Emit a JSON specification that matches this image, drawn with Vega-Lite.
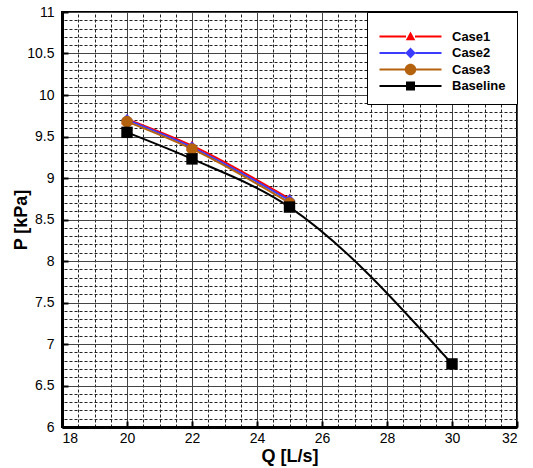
{
  "$schema": "https://vega.github.io/schema/vega-lite/v6.json",
  "width": 455,
  "height": 415,
  "autosize": "none",
  "padding": {"left": 62, "top": 12, "right": 16, "bottom": 41},
  "background": "white",
  "config": {
    "font": "Liberation Sans",
    "view": {"stroke": "black", "strokeWidth": 2},
    "legend": {
      "symbolOpacity": 1, "orient": "top-right", "offset": 0,
      "fillColor": "white", "strokeColor": "black", "padding": 11,
      "titleFontSize": 7, "titlePadding": 0,
      "labelFont": "Liberation Sans", "labelFontWeight": "bold", "labelFontSize": 13, "labelColor": "black",
      "symbolSize": 100, "symbolStrokeWidth": 0, "symbolOffset": 26, "labelOffset": 35, "rowPadding": 2.5
    }
  },
  "data": {
    "values": [
      {"series": "Case1", "Q": 20, "P": 9.71},
      {"series": "Case1", "Q": 22, "P": 9.39},
      {"series": "Case1", "Q": 25, "P": 8.75},
      {"series": "Case2", "Q": 20, "P": 9.70},
      {"series": "Case2", "Q": 22, "P": 9.37},
      {"series": "Case2", "Q": 25, "P": 8.73},
      {"series": "Case3", "Q": 20, "P": 9.68},
      {"series": "Case3", "Q": 22, "P": 9.35},
      {"series": "Case3", "Q": 25, "P": 8.70},
      {"series": "Baseline", "Q": 20, "P": 9.55},
      {"series": "Baseline", "Q": 22, "P": 9.23},
      {"series": "Baseline", "Q": 25, "P": 8.65},
      {"series": "Baseline", "Q": 30, "P": 6.76}
    ]
  },
  "layer": [
    {
      "mark": {"type": "line", "strokeWidth": 2, "interpolate": "monotone"},
      "encoding": {
        "x": {
          "field": "Q", "type": "quantitative",
          "scale": {"domain": [18, 32], "nice": false, "zero": false},
          "axis": {
            "values": [18, 20, 22, 24, 26, 28, 30, 32],
            "format": "~g",
            "title": "Q [L/s]",
            "titleFontSize": 18, "titleFontWeight": "bold", "titleColor": "black", "titlePadding": 2,
            "labelFontSize": 14, "labelColor": "black", "labelPadding": 10,
            "ticks": true, "tickSize": -6, "tickWidth": 2, "tickColor": "black",
            "domain": true, "domainColor": "black", "domainWidth": 3,
            "grid": true, "gridColor": "#444", "gridWidth": 1
          }
        },
        "y": {
          "field": "P", "type": "quantitative",
          "scale": {"domain": [6, 11], "nice": false, "zero": false},
          "axis": {
            "values": [6, 6.5, 7, 7.5, 8, 8.5, 9, 9.5, 10, 10.5, 11],
            "format": "~g",
            "title": "P [kPa]",
            "titleFontSize": 18, "titleFontWeight": "bold", "titleColor": "black", "titlePadding": -4,
            "labelFontSize": 14, "labelColor": "black", "labelPadding": 14,
            "ticks": true, "tickSize": -6, "tickWidth": 2, "tickColor": "black",
            "domain": true, "domainColor": "black", "domainWidth": 3,
            "grid": true, "gridColor": "#444", "gridWidth": 1
          }
        },
        "color": {
          "field": "series", "type": "nominal",
          "scale": {"domain": ["Case1", "Case2", "Case3", "Baseline"], "range": ["#ff0000", "#3c3cff", "#b5620f", "#000000"]},
          "legend": null
        }
      }
    },
    {
      "mark": {"type": "point", "filled": true, "opacity": 1},
      "encoding": {
        "x": {
          "field": "Q", "type": "quantitative",
          "axis": {
            "orient": "top",
            "values": [18.5, 19, 19.5, 20.5, 21, 21.5, 22.5, 23, 23.5, 24.5, 25, 25.5, 26.5, 27, 27.5, 28.5, 29, 29.5, 30.5, 31, 31.5],
            "labels": false, "ticks": false, "domain": false, "title": null,
            "grid": true, "gridColor": "#222", "gridWidth": 1, "gridDash": [3, 2]
          }
        },
        "y": {
          "field": "P", "type": "quantitative",
          "axis": {
            "orient": "right",
            "values": [6.1, 6.2, 6.3, 6.4, 6.6, 6.7, 6.8, 6.9, 7.1, 7.2, 7.3, 7.4, 7.6, 7.7, 7.8, 7.9, 8.1, 8.2, 8.3, 8.4, 8.6, 8.7, 8.8, 8.9, 9.1, 9.2, 9.3, 9.4, 9.6, 9.7, 9.8, 9.9, 10.1, 10.2, 10.3, 10.4, 10.6, 10.7, 10.8, 10.9],
            "labels": false, "ticks": false, "domain": false, "title": null,
            "grid": true, "gridColor": "#222", "gridWidth": 1, "gridDash": [3, 2]
          }
        },
        "color": {
          "field": "series", "type": "nominal",
          "scale": {"domain": ["Case1", "Case2", "Case3", "Baseline"], "range": ["#ff0000", "#3c3cff", "#b5620f", "#000000"]},
          "legend": null
        },
        "shape": {
          "field": "series", "type": "nominal",
          "scale": {"domain": ["Case1", "Case2", "Case3", "Baseline"], "range": ["triangle-up", "diamond", "circle", "square"]},
          "legend": null
        },
        "size": {
          "field": "series", "type": "nominal",
          "scale": {"domain": ["Case1", "Case2", "Case3", "Baseline"], "range": [140, 130, 170, 100]},
          "legend": null
        }
      }
    },
    {
      "mark": {"type": "point", "filled": true},
      "encoding": {
        "x": {"field": "Q", "type": "quantitative", "axis": null},
        "y": {"field": "P", "type": "quantitative", "axis": null},
        "opacity": {"value": 0},
        "color": {
          "field": "series", "type": "nominal",
          "scale": {"domain": ["Case1", "Case2", "Case3", "Baseline"], "range": ["#ff0000", "#3c3cff", "#b5620f", "#000000"]},
          "legend": {"title": " ", "orient": "top-right", "offset": 0}
        },
        "shape": {
          "field": "series", "type": "nominal",
          "scale": {
            "domain": ["Case1", "Case2", "Case3", "Baseline"],
            "range": [
              "M-6.2,-0.2L-0.9,-0.2L-0.9,0.2L-6.2,0.2Z M0.9,-0.2L6.2,-0.2L6.2,0.2L0.9,0.2Z M0,-1L0.95,0.75L-0.95,0.75Z",
              "M-6.2,-0.2L-1,-0.2L-1,0.2L-6.2,0.2Z M1,-0.2L6.2,-0.2L6.2,0.2L1,0.2Z M0,-1.1L1.05,0L0,1.1L-1.05,0Z",
              "M-6.2,-0.2L-1.1,-0.2L-1.1,0.2L-6.2,0.2Z M1.1,-0.2L6.2,-0.2L6.2,0.2L1.1,0.2Z M1.15,0A1.15,1.15,0,1,1,-1.15,0A1.15,1.15,0,1,1,1.15,0Z",
              "M-6.2,-0.2L-0.9,-0.2L-0.9,0.2L-6.2,0.2Z M0.9,-0.2L6.2,-0.2L6.2,0.2L0.9,0.2Z M-0.9,-0.9L0.9,-0.9L0.9,0.9L-0.9,0.9Z"
            ]
          },
          "legend": {"title": " ", "orient": "top-right", "offset": 0, "symbolFillColor": "black"}
        }
      }
    }
  ],
  "resolve": {
    "scale": {"shape": "independent", "size": "independent", "color": "independent"},
    "axis": {"x": "independent", "y": "independent"}
  }
}
